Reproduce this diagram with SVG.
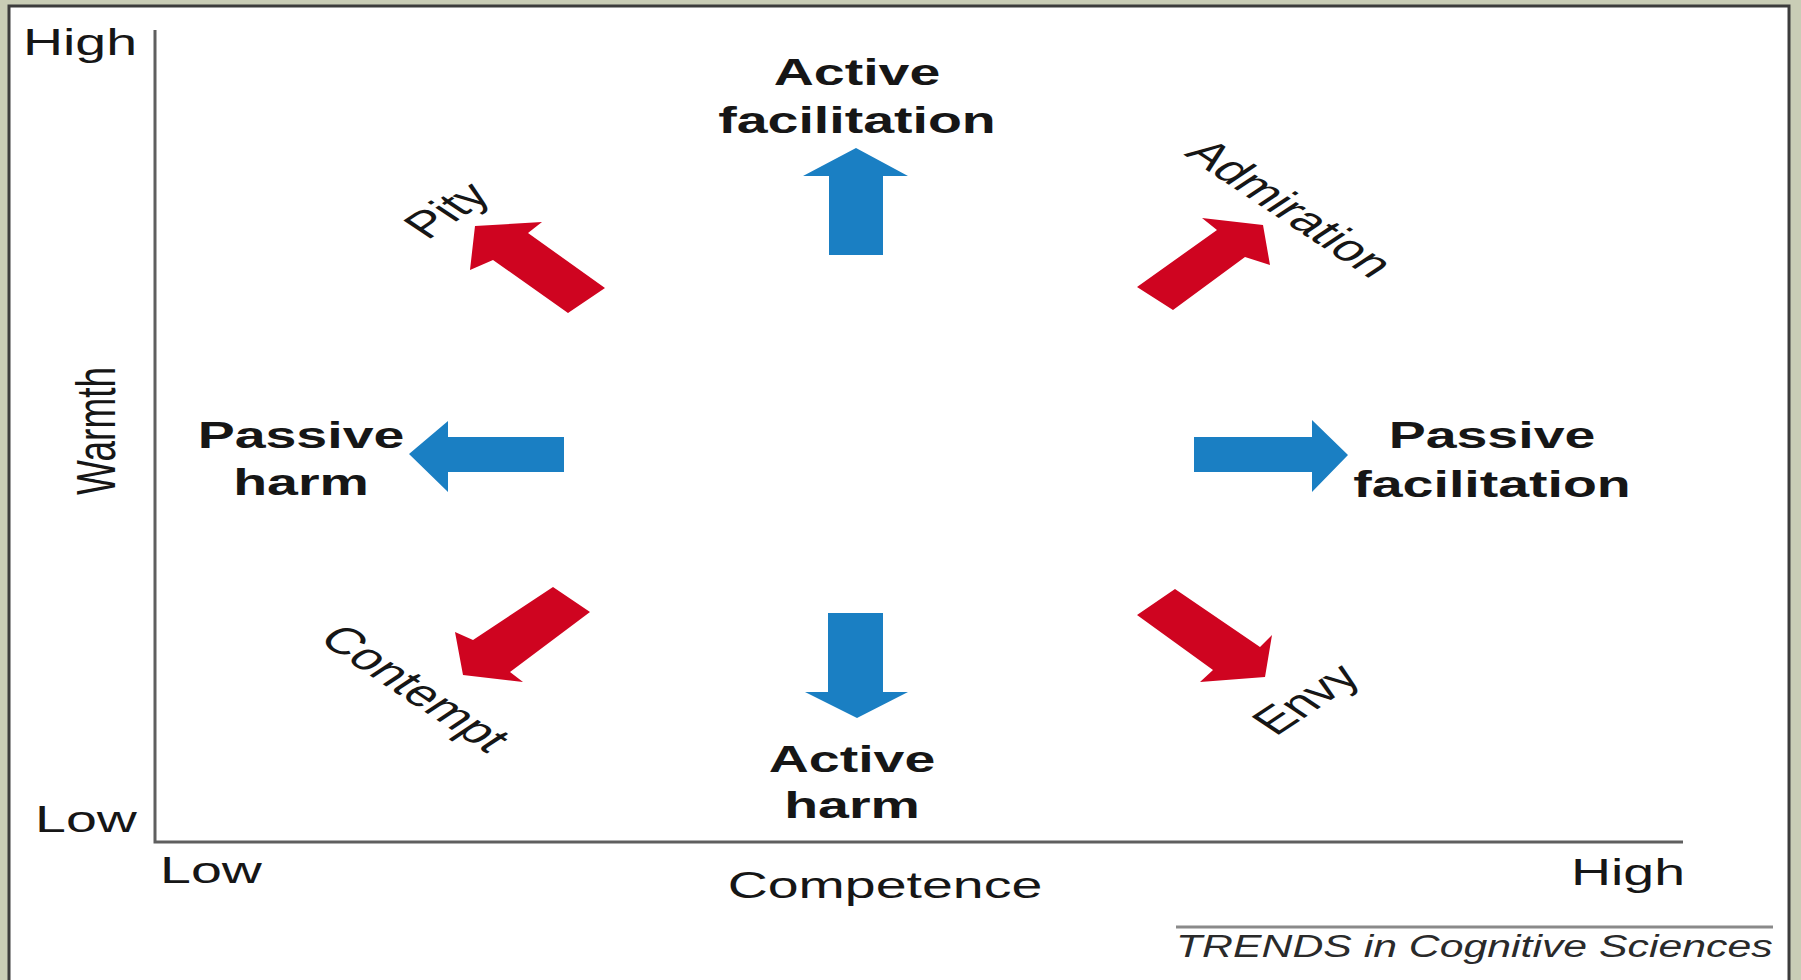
<svg xmlns="http://www.w3.org/2000/svg" width="1801" height="980" viewBox="0 0 1801 980">
<style>
  .t { font-family: "Liberation Sans", Arial, Helvetica, sans-serif; fill: #161616; font-size: 37px; text-anchor: middle; }
  .b { font-weight: bold; }
  .it { font-style: italic; font-size: 31px; fill: #2a2a2a; text-anchor: start; }
  .blue { fill: #1a7fc3; }
  .red { fill: #cf0420; }
  .axis { stroke: #5f5f5f; stroke-width: 3; fill: none; }
</style>
<rect x="0" y="0" width="1801" height="980" fill="#c9cdb6"/>
<rect x="9" y="6" width="1780" height="980" fill="#ffffff" stroke="#3c3c3c" stroke-width="3"/>

<g id="axes">
  <path class="axis" d="M155,30 V842 H1683"/>
  <path d="M1176,927 H1773" stroke="#8a8a8a" stroke-width="3"/>
</g>

<g id="axis-labels">
  <text class="t" transform="translate(80,55) scale(1.5,1)">High</text>
  <text class="t" transform="translate(86,832) scale(1.5,1)">Low</text>
  <text class="t" transform="translate(211,883) scale(1.5,1)">Low</text>
  <text class="t" transform="translate(1628,885) scale(1.5,1)">High</text>
  <text class="t" transform="translate(885,898) scale(1.5,1)">Competence</text>
  <text class="t" transform="translate(115,431) scale(1.5,1) rotate(-90)">Warmth</text>
</g>

<g id="credit">
  <text class="t it" transform="translate(1176,957) scale(1.38,1)">TRENDS in Cognitive Sciences</text>
</g>

<g id="active-facilitation" transform="translate(857,0) scale(1.5,1)">
  <text class="t b" x="0" y="85">Active</text>
  <text class="t b" x="0" y="133">facilitation</text>
</g>
<g id="active-harm" transform="translate(852,0) scale(1.5,1)">
  <text class="t b" x="0" y="772">Active</text>
  <text class="t b" x="0" y="818">harm</text>
</g>
<g id="passive-harm" transform="translate(301,0) scale(1.5,1)">
  <text class="t b" x="0" y="448">Passive</text>
  <text class="t b" x="0" y="495">harm</text>
</g>
<g id="passive-facilitation" transform="translate(1492,0) scale(1.5,1)">
  <text class="t b" x="0" y="448">Passive</text>
  <text class="t b" x="0" y="497">facilitation</text>
</g>
<g id="pity">
  <text class="t" transform="translate(460,219) scale(1.5,1) rotate(-45)">Pity</text>
</g>
<g id="admiration">
  <text class="t" transform="translate(1277,217) scale(1.5,1) rotate(45)">Admiration</text>
</g>
<g id="contempt">
  <text class="t" transform="translate(402,697) scale(1.5,1) rotate(45)">Contempt</text>
</g>
<g id="envy">
  <text class="t" transform="translate(1319,708) scale(1.5,1) rotate(-45)">Envy</text>
</g>

<g id="connectors">
  <polygon class="blue" points="856,148 908,176 883,176 883,255 829,255 829,176 803,176"/>
  <polygon class="blue" points="857,718 908,692 883,692 883,613 828,613 828,692 805,692"/>
  <polygon class="blue" points="409,454 448,421 448,437 564,437 564,472 448,472 448,492"/>
  <polygon class="blue" points="1348,455 1312,420 1312,437 1194,437 1194,472 1312,472 1312,492"/>
  <polygon class="red" points="475,226 542,222 528,233 605,288 568,313 493,260 470,270"/>
  <polygon class="red" points="1137,287 1217,230 1202,218 1263,225 1270,265 1245,257 1173,310"/>
  <polygon class="red" points="553,587 590,612 510,672 523,682 463,675 455,632 473,640"/>
  <polygon class="red" points="1137,615 1175,589 1260,647 1272,635 1265,677 1200,682 1213,670"/>
</g>
</svg>
